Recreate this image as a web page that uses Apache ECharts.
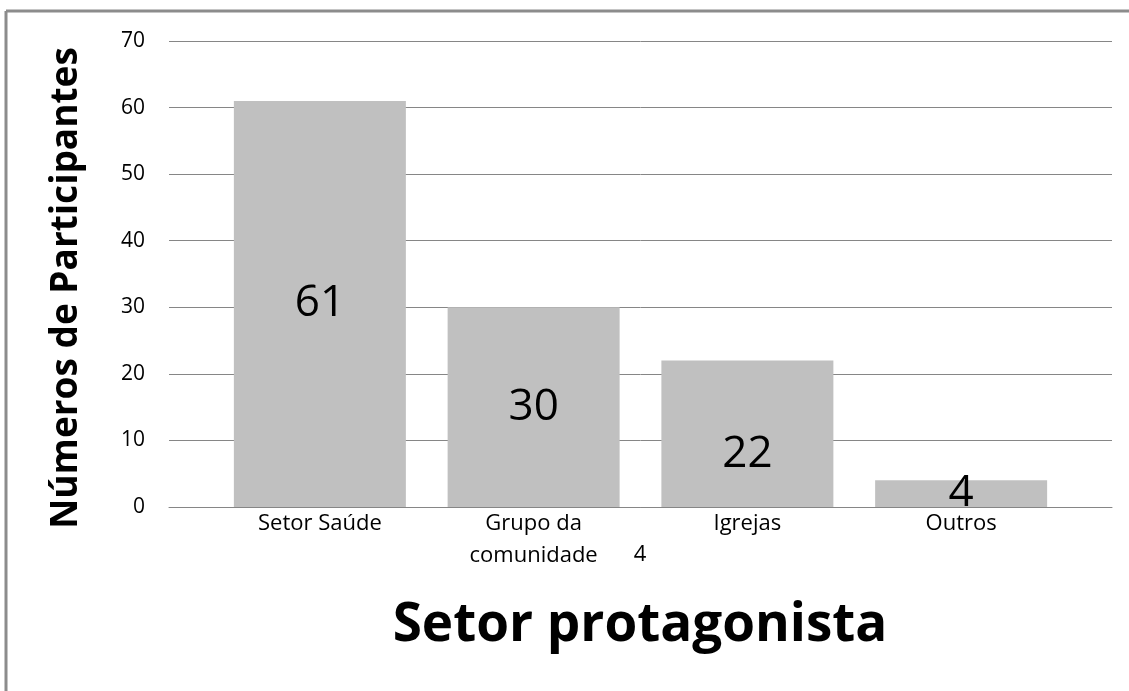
<!DOCTYPE html>
<html>
<head>
<meta charset="utf-8">
<script src="https://cdn.jsdelivr.net/npm/echarts@6/dist/echarts.min.js"></script>
<style>
  html, body { margin: 0; padding: 0; background: #fff; }
  #chart { width: 1129px; height: 691px; }
</style>
</head>
<body>
<div id="chart"></div>
<script>
// data
var categories = ['Setor Saúde', 'Grupo da\ncomunidade', 'Igrejas', 'Outros'];
var participants = [61, 30, 22, 4];
var yTicks = { min: 0, max: 70, interval: 10 };

var font = 'Open Sans';
var gridColor = '#868686';

var chart = echarts.init(document.getElementById('chart'));

var option = {
  animation: false,
  backgroundColor: '#fff',
  grid: [
    { left: 169, right: 17, top: 41, bottom: 184 }, // gridlines + y axis
    { left: 213, width: 855, top: 41, bottom: 184 }  // bars
  ],
  xAxis: [
    {
      gridIndex: 0, type: 'category', data: [''],
      axisLine: { lineStyle: { color: gridColor, width: 1 } },
      axisTick: { show: false }, axisLabel: { show: false }
    },
    {
      gridIndex: 1, type: 'category', data: categories,
      axisLine: { show: false }, axisTick: { show: false },
      axisLabel: { color: '#000', fontFamily: font, fontSize: 22, margin: 1, lineHeight: 32 }
    }
  ],
  yAxis: [
    {
      gridIndex: 0, type: 'value', min: yTicks.min, max: yTicks.max, interval: yTicks.interval,
      axisLine: { show: false }, axisTick: { show: false },
      axisLabel: { color: '#000', fontFamily: font, fontSize: 21, margin: 24 },
      splitLine: { lineStyle: { color: gridColor, width: 1 } }
    },
    {
      gridIndex: 1, type: 'value', min: yTicks.min, max: yTicks.max, show: false
    }
  ],
  series: [{
    type: 'bar',
    xAxisIndex: 1, yAxisIndex: 1,
    barWidth: 172,
    itemStyle: { color: '#c0c0c0' },
    label: {
      show: true, position: 'inside', color: '#000',
      fontFamily: font, fontSize: 44
    },
    data: participants.map(function (v, i) {
      // the 22 label sits lower in its bar in the original
      if (i === 2) return { value: v, label: { offset: [0, 21] } };
      return v;
    })
  }],
  graphic: [
    { type: 'line', shape: { x1: 6, y1: 11, x2: 1129, y2: 11 }, style: { stroke: '#8c8c8c', lineWidth: 3 } },
    { type: 'line', shape: { x1: 6, y1: 11, x2: 6, y2: 691 }, style: { stroke: '#8c8c8c', lineWidth: 3 } },
    {
      // stray "4" next to the second category label in the original
      type: 'text', x: 640, y: 555,
      style: { text: '4', fill: '#000', font: '22px "Open Sans"', align: 'center', verticalAlign: 'middle' }
    },
    {
      type: 'text', x: 66, y: 288, rotation: Math.PI / 2,
      style: {
        text: 'Números de Participantes', fill: '#000',
        font: 'bold 37px "Open Sans"', align: 'center', verticalAlign: 'middle'
      }
    },
    {
      type: 'text', x: 640, y: 626,
      style: {
        text: 'Setor protagonista', fill: '#000',
        font: 'bold 53px "Open Sans"', align: 'center', verticalAlign: 'middle'
      }
    }
  ]
};

chart.setOption(option);
</script>
</body>
</html>
